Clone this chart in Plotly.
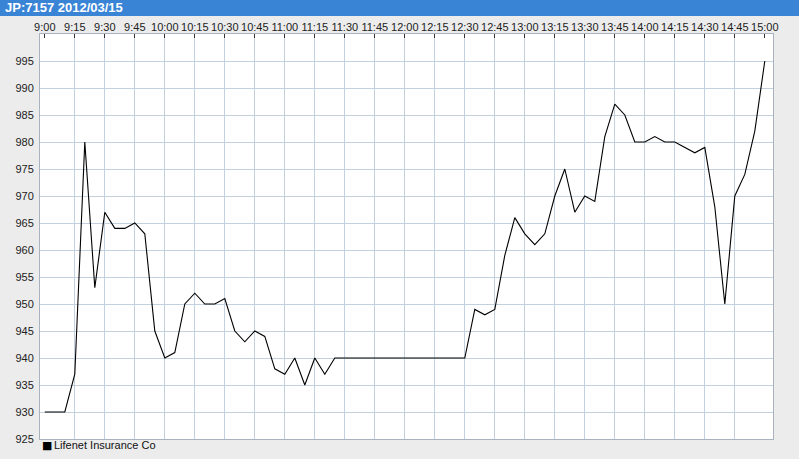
import plotly.graph_objects as go

DAY = "2012-03-15 "

times = [
    "09:00", "09:05", "09:10", "09:15", "09:20", "09:25", "09:30", "09:35", "09:40", "09:45", "09:50", "09:55",
    "10:00", "10:05", "10:10", "10:15", "10:20", "10:25", "10:30", "10:35", "10:40", "10:45", "10:50", "10:55",
    "11:00", "11:05", "11:10", "11:15", "11:20", "11:25", "11:30", "11:35", "11:40", "11:45", "11:50", "11:55",
    "12:00", "12:05", "12:10", "12:15", "12:20", "12:25", "12:30", "12:35", "12:40", "12:45", "12:50", "12:55",
    "13:00", "13:05", "13:10", "13:15", "13:20", "13:25", "13:30", "13:35", "13:40", "13:45", "13:50", "13:55",
    "14:00", "14:05", "14:10", "14:15", "14:20", "14:25", "14:30", "14:35", "14:40", "14:45", "14:50", "14:55",
    "15:00",
]

prices = [
    930, 930, 930, 937, 980, 953, 967, 964, 964, 965, 963, 945,
    940, 941, 950, 952, 950, 950, 951, 945, 943, 945, 944, 938,
    937, 940, 935, 940, 937, 940, 940, 940, 940, 940, 940, 940,
    940, 940, 940, 940, 940, 940, 940, 949, 948, 949, 959, 966,
    963, 961, 963, 970, 975, 967, 970, 969, 981, 987, 985, 980,
    980, 981, 980, 980, 979, 978, 979, 968, 950, 970, 974, 982,
    995,
]

tick_times = [
    "09:00", "09:15", "09:30", "09:45", "10:00", "10:15", "10:30", "10:45", "11:00",
    "11:15", "11:30", "11:45", "12:00", "12:15", "12:30", "12:45", "13:00", "13:15",
    "13:30", "13:45", "14:00", "14:15", "14:30", "14:45", "15:00",
]
tick_labels = [
    "9:00", "9:15", "9:30", "9:45", "10:00", "10:15", "10:30", "10:45", "11:00",
    "11:15", "11:30", "11:45", "12:00", "12:15", "12:30", "12:45", "13:00", "13:15",
    "13:30", "13:45", "14:00", "14:15", "14:30", "14:45", "15:00",
]
y_ticks = [925, 930, 935, 940, 945, 950, 955, 960, 965, 970, 975, 980, 985, 990, 995]

series_name = "Lifenet Insurance Co"
chart_title = "JP:7157 2012/03/15"

x_vals = [DAY + t for t in times]
x_ticks = [DAY + t for t in tick_times]
x_range = [DAY + "08:57:36", DAY + "15:04:06"]

W, H = 799, 459
ML, MR, MT, MB = 40, 26, 34, 20
PW, PH = W - ML - MR, H - MT - MB

FONT = "Liberation Sans"
GRID = "#c3d0dd"
FRAME = "#a9b3bf"

fig = go.Figure()

# main price line (bottom, hidden x axis carrying the grid)
fig.add_trace(go.Scatter(
    x=x_vals, y=prices, mode="lines", name=series_name,
    line=dict(color="#000000", width=1.1), showlegend=False,
    xaxis="x", yaxis="y",
))
# invisible copy to anchor the top label axis
fig.add_trace(go.Scatter(
    x=x_vals, y=prices, mode="lines", line=dict(width=0, color="rgba(0,0,0,0)"),
    showlegend=False, hoverinfo="skip", xaxis="x2", yaxis="y",
))

fig.update_layout(
    width=W, height=H,
    margin=dict(l=ML, r=MR, t=MT, b=MB, pad=0, autoexpand=False),
    paper_bgcolor="#ececec",
    plot_bgcolor="#ffffff",
    font=dict(family=FONT, size=11, color="#222222"),
    xaxis=dict(
        type="date", range=x_range, automargin=False,
        tickvals=x_ticks[1:-1], showticklabels=False, ticks="",
        showgrid=True, gridcolor=GRID, gridwidth=1,
        showline=True, linecolor=FRAME, linewidth=1, mirror=True,
        zeroline=False,
    ),
    xaxis2=dict(
        type="date", range=x_range, overlaying="x", side="top", anchor="y",
        automargin=False,
        tickvals=x_ticks, ticktext=tick_labels,
        ticks="inside", ticklen=4, tickcolor="#333333", tickwidth=1,
        showgrid=False, showline=False, zeroline=False,
        tickfont=dict(family=FONT, size=11, color="#222222"),
    ),
    yaxis=dict(
        range=[925, 1000], tickvals=y_ticks, automargin=False,
        ticks="", showgrid=True, gridcolor=GRID, gridwidth=1,
        showline=True, linecolor=FRAME, linewidth=1, mirror=True,
        zeroline=False, ticklabelstandoff=3,
        tickfont=dict(family=FONT, size=11, color="#222222"),
    ),
    showlegend=False,
    shapes=[dict(
        type="rect", xref="paper", yref="paper", layer="above",
        x0=-ML / PW - 0.01, x1=1 + MR / PW + 0.01,
        y0=1 + (MT - 16) / PH, y1=1 + (MT + 2) / PH,
        fillcolor="#3a84d6", line=dict(width=0),
    )],
    annotations=[
        dict(
            text="<b>" + chart_title + "</b>", xref="paper", yref="paper",
            x=-(ML - 3) / PW, y=1 + (MT - 8) / PH, xanchor="left", yanchor="middle",
            showarrow=False, font=dict(family=FONT, size=13, color="#ffffff"),
        ),
        dict(
            text="\u25a0", xref="paper", yref="paper",
            x=(40 - ML) / PW, y=-(445 - MT - PH) / PH, xanchor="left", yanchor="middle",
            showarrow=False, font=dict(family="DejaVu Sans", size=11, color="#000000"),
        ),
        dict(
            text=series_name, xref="paper", yref="paper",
            x=(52 - ML) / PW, y=-(445 - MT - PH) / PH, xanchor="left", yanchor="middle",
            showarrow=False, font=dict(family=FONT, size=11, color="#111111"),
        ),
    ],
)

fig.write_html(
    "out.html",
    config={"displayModeBar": False},
    post_script="document.body.style.margin='0px';document.body.style.overflow='hidden';",
)
